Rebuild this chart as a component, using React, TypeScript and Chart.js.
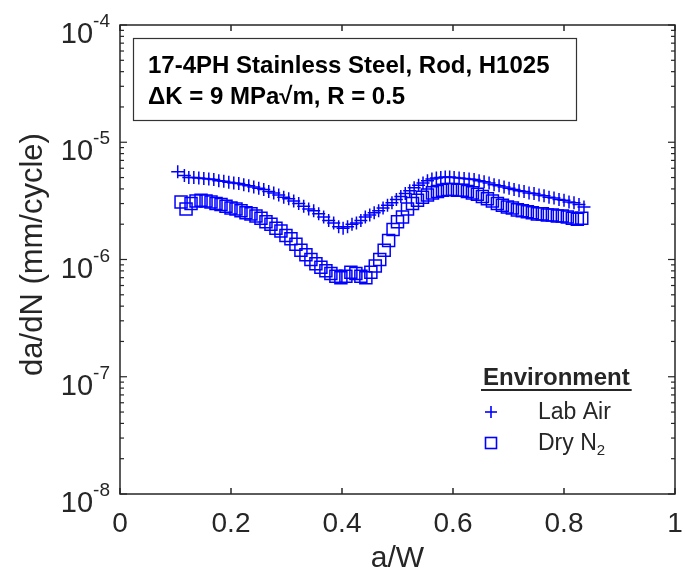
import React, { useEffect, useRef } from "react";
import { Chart, registerables } from "chart.js";

Chart.register(...registerables);

// ---- Data (a/W, da/dN in mm/cycle) ----
const labAirX = [
  0.104, 0.116, 0.124, 0.133, 0.142, 0.151, 0.160, 0.169, 0.178, 0.187, 0.196, 0.205,
  0.214, 0.223, 0.232, 0.241, 0.250, 0.259, 0.268, 0.277, 0.286, 0.295, 0.304, 0.313,
  0.322, 0.331, 0.340, 0.349, 0.358, 0.367, 0.376, 0.385, 0.394, 0.402, 0.410, 0.418,
  0.426, 0.434, 0.442, 0.450, 0.458, 0.466, 0.474, 0.482, 0.490, 0.498, 0.506, 0.514,
  0.522, 0.530, 0.538, 0.546, 0.554, 0.562, 0.570, 0.578, 0.586, 0.594, 0.602, 0.611,
  0.620, 0.629, 0.638, 0.647, 0.656, 0.665, 0.674, 0.683, 0.692, 0.701, 0.710, 0.719,
  0.728, 0.737, 0.746, 0.755, 0.764, 0.773, 0.782, 0.791, 0.800, 0.809, 0.818, 0.827,
  0.836,
];
const labAirY = [
  5.6e-6, 5.2e-6, 5.0e-6, 5.0e-6, 4.95e-6, 4.9e-6, 4.85e-6, 4.8e-6, 4.7e-6, 4.65e-6, 4.55e-6, 4.5e-6,
  4.45e-6, 4.35e-6, 4.25e-6, 4.15e-6, 4.05e-6, 3.95e-6, 3.8e-6, 3.7e-6, 3.55e-6, 3.4e-6, 3.3e-6, 3.15e-6,
  3.0e-6, 2.85e-6, 2.7e-6, 2.6e-6, 2.45e-6, 2.3e-6, 2.15e-6, 2.05e-6, 1.9e-6, 1.85e-6, 1.9e-6, 2.0e-6,
  2.05e-6, 2.15e-6, 2.3e-6, 2.4e-6, 2.5e-6, 2.6e-6, 2.75e-6, 2.9e-6, 3.05e-6, 3.25e-6, 3.45e-6, 3.65e-6,
  3.85e-6, 4.1e-6, 4.3e-6, 4.5e-6, 4.7e-6, 4.85e-6, 4.95e-6, 5.0e-6, 5.05e-6, 5.05e-6, 5.0e-6, 4.95e-6,
  4.9e-6, 4.85e-6, 4.8e-6, 4.7e-6, 4.6e-6, 4.5e-6, 4.35e-6, 4.25e-6, 4.15e-6, 4.05e-6, 3.95e-6, 3.85e-6,
  3.8e-6, 3.7e-6, 3.65e-6, 3.55e-6, 3.5e-6, 3.4e-6, 3.35e-6, 3.25e-6, 3.2e-6, 3.1e-6, 3.05e-6, 2.95e-6,
  2.8e-6,
];

const dryN2X = [
  0.110, 0.119, 0.128, 0.137, 0.146, 0.155, 0.164, 0.173, 0.182, 0.191, 0.200, 0.209,
  0.218, 0.227, 0.236, 0.245, 0.254, 0.263, 0.272, 0.281, 0.290, 0.299, 0.308, 0.317,
  0.326, 0.335, 0.344, 0.353, 0.362, 0.371, 0.380, 0.389, 0.398, 0.407, 0.416, 0.425,
  0.434, 0.443, 0.452, 0.460, 0.468, 0.476, 0.484, 0.492, 0.500, 0.509, 0.518, 0.527,
  0.536, 0.545, 0.554, 0.563, 0.572, 0.581, 0.590, 0.599, 0.608, 0.617, 0.626, 0.635,
  0.644, 0.653, 0.662, 0.671, 0.680, 0.689, 0.698, 0.707, 0.716, 0.725, 0.734, 0.743,
  0.752, 0.761, 0.770, 0.779, 0.788, 0.797, 0.806, 0.815, 0.824, 0.832,
];
const dryN2Y = [
  3.1e-6, 2.7e-6, 3.0e-6, 3.15e-6, 3.2e-6, 3.15e-6, 3.1e-6, 3.0e-6, 2.95e-6, 2.85e-6, 2.75e-6, 2.7e-6,
  2.6e-6, 2.5e-6, 2.45e-6, 2.35e-6, 2.25e-6, 2.1e-6, 2.0e-6, 1.85e-6, 1.75e-6, 1.6e-6, 1.5e-6, 1.35e-6,
  1.2e-6, 1.1e-6, 1.0e-6, 9.2e-7, 8.6e-7, 8.0e-7, 7.6e-7, 7.2e-7, 7.0e-7, 7.2e-7, 7.8e-7, 7.6e-7,
  7.2e-7, 7.0e-7, 7.8e-7, 8.8e-7, 1.0e-6, 1.2e-6, 1.45e-6, 1.8e-6, 2.1e-6, 2.3e-6, 2.7e-6, 3.0e-6,
  3.2e-6, 3.4e-6, 3.55e-6, 3.7e-6, 3.8e-6, 3.9e-6, 3.95e-6, 3.95e-6, 3.9e-6, 3.9e-6, 3.8e-6, 3.7e-6,
  3.6e-6, 3.45e-6, 3.3e-6, 3.15e-6, 3.0e-6, 2.9e-6, 2.8e-6, 2.75e-6, 2.65e-6, 2.6e-6, 2.55e-6, 2.5e-6,
  2.45e-6, 2.45e-6, 2.4e-6, 2.4e-6, 2.35e-6, 2.35e-6, 2.3e-6, 2.25e-6, 2.2e-6, 2.25e-6,
];

const xTickValues = [0, 0.2, 0.4, 0.6, 0.8, 1];
const xTickLabels = ["0", "0.2", "0.4", "0.6", "0.8", "1"];
const yTickExponents = [-8, -7, -6, -5, -4];
const seriesNames = ["Lab Air", "Dry N"];
const legendTitle = "Environment";
const boxLine1 = "17-4PH Stainless Steel, Rod, H1025";
const boxLine2 = "\u0394K = 9 MPa\u221Am, R = 0.5";
const xTitle = "a/W";
const yTitle = "da/dN (mm/cycle)";

const FONT = "'Liberation Sans', Arial, Helvetica, sans-serif";
const AXIS_COLOR = "#262626";
const BLUE = "#0000ff";

const decorPlugin = {
  id: "matlabDecor",
  afterDraw(chart: any) {
    const { ctx, chartArea: a, scales } = chart;
    const xs = scales.x;
    const ys = scales.y;
    ctx.save();

    const line = (x1: number, y1: number, x2: number, y2: number) => {
      ctx.beginPath();
      ctx.moveTo(x1, y1);
      ctx.lineTo(x2, y2);
      ctx.stroke();
    };

    // frame
    ctx.strokeStyle = AXIS_COLOR;
    ctx.lineWidth = 1.5;
    ctx.strokeRect(a.left, a.top, a.right - a.left, a.bottom - a.top);

    // x ticks (inward, bottom and top)
    xTickValues.forEach((v) => {
      const px = xs.getPixelForValue(v);
      line(px, a.bottom, px, a.bottom - 6);
      line(px, a.top, px, a.top + 6);
    });

    // y ticks (log, inward, left and right)
    ctx.lineWidth = 1.2;
    for (let e = -8; e <= -4; e++) {
      for (let m = 1; m <= 9; m++) {
        if (e === -4 && m > 1) break;
        const v = m * Math.pow(10, e);
        const py = ys.getPixelForValue(v);
        const len = m === 1 ? 7 : 4;
        line(a.left, py, a.left + len, py);
        line(a.right, py, a.right - len, py);
      }
    }

    // x tick labels
    ctx.fillStyle = AXIS_COLOR;
    ctx.font = `28px ${FONT}`;
    ctx.textAlign = "center";
    ctx.textBaseline = "alphabetic";
    xTickValues.forEach((v, i) => {
      const px = xs.getPixelForValue(v);
      ctx.fillText(xTickLabels[i], px, a.bottom + 38);
    });

    // y tick labels 10^e
    yTickExponents.forEach((e) => {
      const py = ys.getPixelForValue(Math.pow(10, e));
      const base = "10";
      const exp = String(e);
      ctx.font = `29px ${FONT}`;
      const wb = ctx.measureText(base).width;
      ctx.font = `19px ${FONT}`;
      const we = ctx.measureText(exp).width;
      const right = a.left - 10;
      const x0 = right - wb - we;
      ctx.textAlign = "left";
      ctx.font = `29px ${FONT}`;
      ctx.fillText(base, x0, py + 18);
      ctx.font = `19px ${FONT}`;
      ctx.fillText(exp, x0 + wb, py + 2);
    });

    // axis titles
    ctx.font = `30px ${FONT}`;
    ctx.textAlign = "center";
    ctx.fillText(xTitle, (a.left + a.right) / 2, 567);
    ctx.save();
    ctx.translate(42, (a.top + a.bottom) / 2 - 5);
    ctx.rotate(-Math.PI / 2);
    ctx.font = `31px ${FONT}`;
    ctx.textBaseline = "alphabetic";
    ctx.fillText(yTitle, 0, 0);
    ctx.restore();

    // annotation box
    ctx.lineWidth = 1.2;
    ctx.strokeStyle = "#333333";
    ctx.strokeRect(133.5, 38.5, 443, 82);
    ctx.fillStyle = "#000000";
    ctx.textAlign = "left";
    ctx.font = `bold 24px ${FONT}`;
    ctx.fillText(boxLine1, 148, 73);
    ctx.fillText(boxLine2, 148, 104);

    // legend
    ctx.fillStyle = AXIS_COLOR;
    ctx.font = `bold 24px ${FONT}`;
    ctx.fillText(legendTitle, 483, 385);
    const tw = ctx.measureText(legendTitle).width;
    ctx.strokeStyle = AXIS_COLOR;
    ctx.lineWidth = 2;
    line(481, 390, 483 + tw + 2, 390);

    ctx.font = `23px ${FONT}`;
    ctx.fillText(seriesNames[0], 538, 419);
    ctx.fillText(seriesNames[1], 538, 450);
    const wN = ctx.measureText(seriesNames[1]).width;
    ctx.font = `15px ${FONT}`;
    ctx.fillText("2", 538 + wN, 455);

    ctx.strokeStyle = BLUE;
    ctx.lineWidth = 1.6;
    line(485, 412, 497, 412);
    line(491, 406, 491, 418);
    ctx.strokeRect(485.5, 437.5, 11, 11);

    ctx.restore();
  },
};

export default function App() {
  const ref = useRef<HTMLCanvasElement | null>(null);

  useEffect(() => {
    if (!ref.current) return;
    const labAir = labAirX.map((x, i) => ({ x, y: labAirY[i] }));
    const dryN2 = dryN2X.map((x, i) => ({ x, y: dryN2Y[i] }));
    const chart = new Chart(ref.current, {
      type: "scatter",
      data: {
        datasets: [
          {
            label: "Lab Air",
            data: labAir,
            pointStyle: "cross",
            pointRadius: 6.5,
            pointBorderWidth: 1.5,
            borderColor: BLUE,
            backgroundColor: BLUE,
            showLine: false,
          },
          {
            label: "Dry N2",
            data: dryN2,
            pointStyle: "rect",
            pointRadius: 8.5,
            pointBorderWidth: 1.5,
            borderColor: BLUE,
            backgroundColor: "rgba(0,0,0,0)",
            showLine: false,
          },
        ],
      },
      options: {
        responsive: false,
        animation: false,
        devicePixelRatio: 1,
        layout: { padding: { left: 120, right: 3, top: 25, bottom: 87 } },
        plugins: {
          legend: { display: false },
          tooltip: { enabled: false },
          title: { display: false },
        },
        scales: {
          x: { type: "linear", min: 0, max: 1, display: false },
          y: { type: "logarithmic", min: 1e-8, max: 1e-4, display: false },
        },
      },
      plugins: [decorPlugin],
    });
    return () => chart.destroy();
  }, []);

  return (
    <div style={{ position: "fixed", left: 0, top: 0, width: 685, height: 581, background: "#ffffff" }}>
      <canvas ref={ref} width={685} height={581} style={{ display: "block" }} />
    </div>
  );
}
